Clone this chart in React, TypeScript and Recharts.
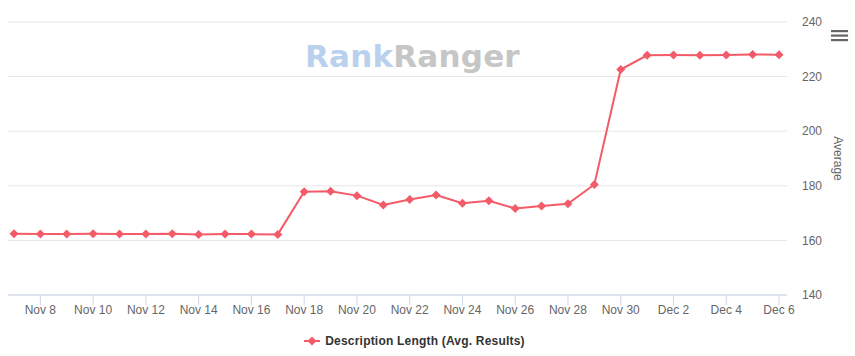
import { LineChart, Line, XAxis, YAxis, CartesianGrid, Legend } from 'recharts'

const dates = [
  'Nov 7', 'Nov 8', 'Nov 9', 'Nov 10', 'Nov 11', 'Nov 12', 'Nov 13', 'Nov 14', 'Nov 15', 'Nov 16',
  'Nov 17', 'Nov 18', 'Nov 19', 'Nov 20', 'Nov 21', 'Nov 22', 'Nov 23', 'Nov 24', 'Nov 25', 'Nov 26',
  'Nov 27', 'Nov 28', 'Nov 29', 'Nov 30', 'Dec 1', 'Dec 2', 'Dec 3', 'Dec 4', 'Dec 5', 'Dec 6',
]

const descLength = [
  162.4, 162.3, 162.3, 162.4, 162.3, 162.3, 162.4, 162.2, 162.3, 162.3,
  162.2, 177.8, 178.0, 176.4, 173.0, 175.0, 176.6, 173.6, 174.5, 171.7,
  172.6, 173.4, 180.5, 222.6, 227.8, 227.9, 227.8, 227.9, 228.1, 228.0,
]

const xTicks = [1, 3, 5, 7, 9, 11, 13, 15, 17, 19, 21, 23, 25, 27, 29]
const yTicks = [140, 160, 180, 200, 220, 240]

const SERIES_NAME = 'Description Length (Avg. Results)'
const RED = '#f45b69'

const data = dates.map((d, i) => ({ i, date: d, value: descLength[i] }))

function Diamond(props: any) {
  const { cx, cy } = props
  if (cx == null || cy == null) return null
  const r = 4.5
  return <path d={`M${cx},${cy - r}L${cx + r},${cy}L${cx},${cy + r}L${cx - r},${cy}Z`} fill={RED} />
}

function LegendBox() {
  return (
    <div style={{ display: 'flex', justifyContent: 'center', alignItems: 'center', height: 30, paddingRight: 34 }}>
      <svg width={16} height={12} style={{ marginRight: 5 }}>
        <line x1={0} y1={6} x2={16} y2={6} stroke={RED} strokeWidth={2} />
        <path d="M8,1.5L12.5,6L8,10.5L3.5,6Z" fill={RED} />
      </svg>
      <span style={{ fontFamily: '"Liberation Sans", Arial, sans-serif', fontSize: 12, fontWeight: 'bold', color: '#333', letterSpacing: 0.2 }}>
        {SERIES_NAME}
      </span>
    </div>
  )
}

export default function App() {
  const font = '"Liberation Sans", Arial, sans-serif'
  return (
    <div style={{ position: 'absolute', left: 0, top: 0, width: 855, height: 356, background: '#fff', fontFamily: font }}>
      <div
        style={{
          position: 'absolute', left: 305, top: 38, fontFamily: '"DejaVu Sans", sans-serif', fontWeight: 'bold',
          fontSize: 31, letterSpacing: 0.2, pointerEvents: 'none', lineHeight: '36px',
        }}
      >
        <span style={{ color: '#b9d1ed' }}>Rank</span>
        <span style={{ color: '#c6c6c6' }}>Ranger</span>
      </div>
      <svg width={18} height={12} style={{ position: 'absolute', left: 831, top: 30 }}>
        <rect x={0} y={0} width={17} height={2.2} fill="#666" />
        <rect x={0} y={4.5} width={17} height={2.2} fill="#666" />
        <rect x={0} y={9} width={17} height={2.2} fill="#666" />
      </svg>
      <LineChart width={855} height={356} data={data} margin={{ top: 22, right: 0, bottom: 0, left: 8 }}>
        <CartesianGrid vertical={false} stroke="#e6e6e6" />
        <XAxis
          type="number"
          dataKey="i"
          domain={[0, 29]}
          ticks={xTicks}
          tickFormatter={(v: number) => dates[v]}
          padding={{ left: 6, right: 8 }}
          stroke="#ccd6eb"
          tickSize={10}
          tickMargin={0}
          height={31}
          tick={{ fill: '#666', fontSize: 12, fontFamily: font }}
        />
        <YAxis
          orientation="right"
          domain={[140, 240]}
          ticks={yTicks}
          width={68}
          axisLine={false}
          tickLine={false}
          tickSize={0}
          tickMargin={15}
          tick={{ fill: '#666', fontSize: 12, fontFamily: font }}
          label={{ value: 'Average', angle: 90, position: 'center', dx: 17, fill: '#666', fontSize: 12, fontFamily: font }}
        />
        <Legend verticalAlign="bottom" height={30} content={() => <LegendBox />} />
        <Line
          type="linear"
          dataKey="value"
          name={SERIES_NAME}
          stroke={RED}
          strokeWidth={2}
          dot={<Diamond />}
          activeDot={false}
          isAnimationActive={false}
        />
      </LineChart>
    </div>
  )
}
